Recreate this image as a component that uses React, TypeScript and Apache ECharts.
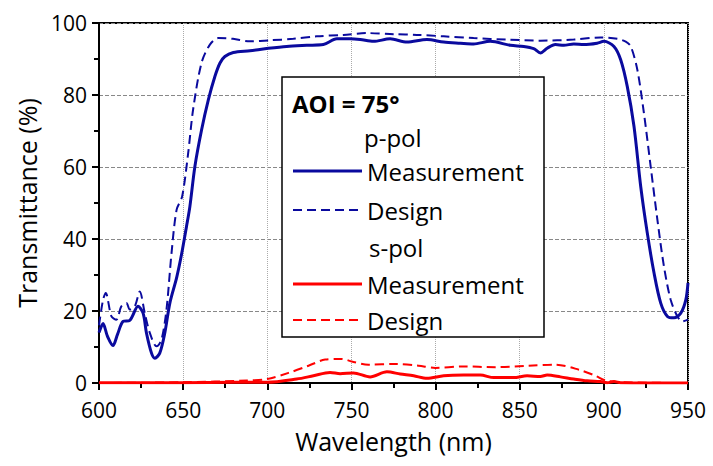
import React, { useEffect, useRef } from "react";
import * as echarts from "echarts";

const pMeasWl = [600, 602.4, 605, 608.3, 611, 614.3, 618.3, 623.2, 626.2, 628.2, 631.2, 633.2, 636.1, 639.1, 642.1, 646.1, 649, 652, 654, 657, 661, 665, 668.9, 671.9, 674.8, 679.8, 689.7, 699.6, 711.5, 723.5, 733.3, 741.3, 749.2, 755.2, 763.1, 773, 783, 794.9, 804.8, 814.7, 822.6, 832.5, 844.5, 852.4, 858.3, 862.3, 866.3, 871.2, 876.2, 882.1, 888.1, 896, 900, 906, 910, 913.9, 917.9, 921.9, 925.8, 929.8, 933.8, 937.8, 941.7, 945.7, 948.7, 950];
const pMeasT = [14, 16.5, 13, 10.4, 13.5, 17.1, 17.4, 21.3, 19.4, 13.9, 8.3, 6.9, 8.3, 13.9, 22.2, 29.2, 35.6, 43.5, 49, 60.2, 70.4, 78.7, 85.2, 88.9, 90.7, 91.8, 92.3, 92.9, 93.5, 93.8, 94, 95.6, 95.6, 95.4, 94.9, 95.6, 94.7, 95.4, 94.7, 94.4, 94.2, 94.9, 93.8, 93.5, 92.9, 91.7, 93, 94, 93.8, 94.2, 94, 94.4, 94.9, 93.5, 89.8, 82.4, 71.3, 54.6, 41.7, 30.6, 22.2, 18.5, 18.1, 19.4, 23.1, 27.8];

const pDesWl = [600, 602.4, 604, 607.4, 610.3, 613.3, 616.3, 618.3, 621.3, 624.2, 627.2, 630.2, 634.2, 637.1, 640.1, 643.1, 646.1, 649.4, 653, 655.9, 660.9, 665.9, 670.9, 679.6, 689.7, 701.6, 715.5, 729.4, 745.2, 759.2, 775, 788.9, 804.8, 822.6, 842.5, 862.3, 882.1, 898, 908, 913, 916, 919.9, 923.8, 927.8, 931.8, 935.7, 939.7, 943.7, 946.7, 950];
const pDesT = [16, 23.1, 25, 18.5, 17.6, 21.3, 22.2, 20.4, 21.3, 25.4, 19.4, 13.9, 10.2, 12, 20.4, 36.1, 48.1, 51.8, 63.9, 75.9, 88.9, 94, 95.8, 95.6, 94.9, 95.2, 95.6, 96.3, 96.7, 97.2, 96.9, 96.7, 96.3, 95.8, 95.4, 95.1, 95.4, 96, 95.6, 94.8, 93.5, 87, 75, 60.2, 45.4, 32.4, 23.1, 18.5, 17.1, 17.6];

const sMeasWl = [600, 650, 680, 700, 717.5, 727.4, 737.3, 743.3, 751.2, 761.1, 771.1, 779, 787, 794.9, 804.8, 816.7, 826.6, 834.6, 846.4, 854.4, 862.3, 866.3, 874.2, 882.1, 890.1, 898, 902, 906, 910, 950];
const sMeasT = [0.1, 0.1, 0.2, 0.2, 1.1, 2, 2.9, 2.6, 2.8, 1.7, 3.1, 2.5, 2, 1.3, 2, 2.2, 2.2, 1.5, 1.5, 2, 1.8, 2.2, 1.7, 1.1, 0.6, 0.4, 0.1, 0.4, 0.1, 0];

const sDesWl = [600, 650, 687.7, 700, 712.6, 724.5, 734.4, 744.3, 750.2, 760.1, 776, 789.9, 799.8, 815.7, 835.5, 855.3, 871.2, 885.1, 895.1, 901, 911, 950];
const sDesT = [0, 0.2, 0.7, 1.1, 2.8, 4.8, 6.5, 6.7, 6, 5.1, 5.3, 4.8, 4.2, 4.6, 4.4, 4.8, 5.1, 3.7, 2, 0.7, 0.2, 0];

const xTicks = [600, 650, 700, 750, 800, 850, 900, 950];
const yTicks = [0, 20, 40, 60, 80, 100];

const legendTitle = "AOI = 75°";
const legendGroups = ["p-pol", "s-pol"];
const legendItems = ["Measurement", "Design"];

const BLUE = "#0a0a9e";
const RED = "#ff0000";
const FONT = "'Open Sans', 'DejaVu Sans', sans-serif";

const zip = (a: number[], b: number[]) => a.map((v, i) => [v, b[i]]);

export default function App() {
  const ref = useRef<HTMLDivElement>(null);
  useEffect(() => {
    if (!ref.current) return;
    const chart = echarts.init(ref.current, undefined, { renderer: "svg" });
    const lx = 282, ly = 77;
    const lineX1 = 293, lineX2 = 362, textX = 367;
    const rowY = [103, 137, 171, 210, 247, 284, 320];
    const legendLine = (y: number, color: string, dashed: boolean) => ({
      type: "line",
      shape: { x1: lineX1, y1: y, x2: lineX2, y2: y },
      style: dashed
        ? { stroke: color, lineWidth: 2, lineDash: [9, 5] }
        : { stroke: color, lineWidth: 3 },
      z: 10,
    });
    const legendText = (x: number, y: number, text: string, bold = false) => ({
      type: "text",
      x,
      y,
      style: {
        text,
        fill: "#000",
        font: `${bold ? "bold " : ""}24px ${FONT}`,
        textVerticalAlign: "middle",
      },
      z: 10,
    });
    chart.setOption({
      animation: false,
      grid: {
        left: 99,
        right: 25,
        top: 23,
        bottom: 83,
        show: true,
        borderColor: "#000",
        borderWidth: 2,
      },
      xAxis: {
        type: "value",
        min: xTicks[0],
        max: xTicks[xTicks.length - 1],
        interval: 50,
        name: "Wavelength (nm)",
        nameLocation: "middle",
        nameGap: 45,
        nameTextStyle: { fontSize: 25, fontFamily: FONT, color: "#000" },
        axisLine: { lineStyle: { color: "#000", width: 2 } },
        axisTick: { length: 7, lineStyle: { color: "#000", width: 2 } },
        minorTick: { show: true, splitNumber: 2, length: 5, lineStyle: { color: "#000", width: 2 } },
        axisLabel: { fontSize: 21, fontFamily: FONT, color: "#000", margin: 16, lineHeight: 22 },
        splitLine: { show: true, lineStyle: { color: "#aaa", type: "dotted", width: 1 } },
      },
      yAxis: {
        type: "value",
        min: yTicks[0],
        max: yTicks[yTicks.length - 1],
        interval: 20,
        name: "Transmittance (%)",
        nameLocation: "middle",
        nameGap: 60,
        nameTextStyle: { fontSize: 25, fontFamily: FONT, color: "#000" },
        axisLine: { lineStyle: { color: "#000", width: 2 } },
        axisTick: { length: 7, lineStyle: { color: "#000", width: 2 } },
        minorTick: { show: true, splitNumber: 2, length: 5, lineStyle: { color: "#000", width: 2 } },
        axisLabel: { fontSize: 21, fontFamily: FONT, color: "#000", margin: 12, lineHeight: 22 },
        splitLine: { show: true, lineStyle: { color: "#888", type: "dashed", width: 1 } },
      },
      series: [
        {
          type: "line",
          data: zip(sMeasWl, sMeasT),
          showSymbol: false,
          smooth: 0.3,
          lineStyle: { color: RED, width: 3 },
        },
        {
          type: "line",
          data: zip(sDesWl, sDesT),
          showSymbol: false,
          smooth: 0.3,
          lineStyle: { color: RED, width: 2, type: [9, 5] },
        },
        {
          type: "line",
          data: zip(pDesWl, pDesT),
          showSymbol: false,
          smooth: 0.3,
          lineStyle: { color: BLUE, width: 2, type: [9, 5] },
        },
        {
          type: "line",
          data: zip(pMeasWl, pMeasT),
          showSymbol: false,
          smooth: 0.3,
          lineStyle: { color: BLUE, width: 3 },
        },
      ],
      graphic: [
        {
          type: "rect",
          shape: { x: lx, y: ly, width: 262, height: 260 },
          style: { fill: "#fff", stroke: "#000", lineWidth: 1.5 },
          z: 9,
        },
        legendText(292, rowY[0], legendTitle, true),
        legendText(364, rowY[1], legendGroups[0]),
        legendLine(rowY[2], BLUE, false),
        legendText(textX, rowY[2], legendItems[0]),
        legendLine(rowY[3], BLUE, true),
        legendText(textX, rowY[3], legendItems[1]),
        legendText(369, rowY[4], legendGroups[1]),
        legendLine(rowY[5], RED, false),
        legendText(textX, rowY[5], legendItems[0]),
        legendLine(rowY[6], RED, true),
        legendText(textX, rowY[6], legendItems[1]),
      ],
    });
    return () => chart.dispose();
  }, []);
  return <div ref={ref} style={{ width: 713, height: 466, position: "absolute", left: 0, top: 0 }} />;
}
